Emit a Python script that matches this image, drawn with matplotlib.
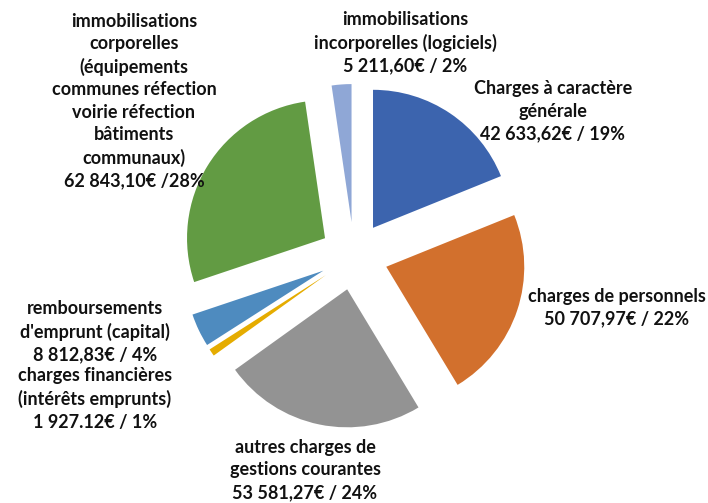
import matplotlib.pyplot as plt

# slices, clockwise from 12 o'clock
labels = [
    "Charges à caractère\ngénérale\n42 633,62€ / 19%",
    "charges de personnels\n50 707,97€ / 22%",
    "autres charges de\ngestions courantes\n53 581,27€ / 24%",
    "charges financières\n(intérêts emprunts)\n1 927.12€ / 1%",
    "remboursements\nd'emprunt (capital)\n8 812,83€ / 4%",
    "immobilisations\ncorporelles\n(équipements\ncommunes réfection\nvoirie réfection\nbâtiments\ncommunaux)\n62 843,10€ /28%",
    "immobilisations\nincorporelles (logiciels)\n5 211,60€ / 2%",
]
values = [42633.62, 50707.97, 53581.27, 1927.12, 8812.83, 62843.10, 5211.60]
colors = ["#3C64AE", "#D2702D", "#939393", "#E5AC00", "#4E8BBF", "#629B43", "#8FA7D6"]

# label anchor points in figure pixels (x, y from top)
label_pos = [(553, 111), (617, 308), (305, 470), (95, 399), (95, 332), (134, 101), (405, 43)]

W, H = 708, 503
fig = plt.figure(figsize=(W / 100, H / 100), dpi=100)
ax = fig.add_axes([0, 0, 1, 1])

ax.pie(values, colors=colors, center=(354, H - 256), radius=138,
       startangle=90, counterclock=False, explode=[34] * len(values),
       wedgeprops=dict(linewidth=0), frame=True)
ax.set_xlim(0, W)
ax.set_ylim(0, H)
ax.set_aspect("equal")
ax.axis("off")

for text, (x, y) in zip(labels, label_pos):
    ax.text(x, H - y, text, ha="center", va="center", fontsize=13,
            fontweight="bold", family="Lato", color="#111111", linespacing=1.38)

fig.savefig("out.png", dpi=100)
